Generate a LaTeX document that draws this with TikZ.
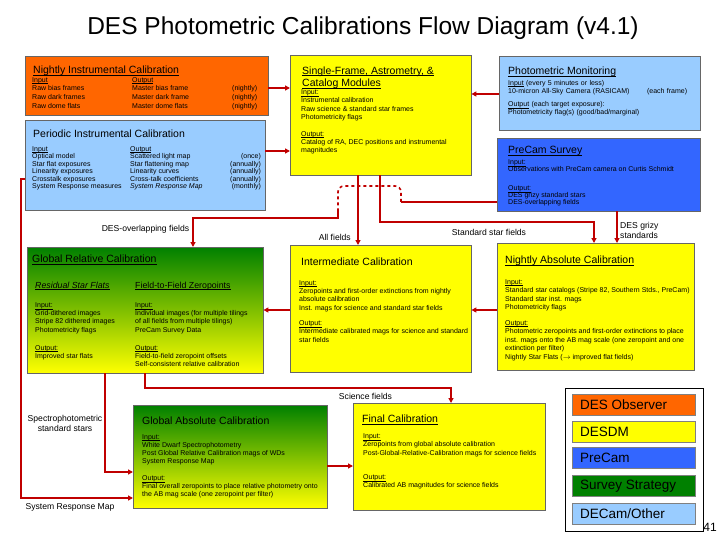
\documentclass[tikz,border=0pt]{standalone}
\usepackage{fontspec}
\setmainfont{Liberation Sans}
\usetikzlibrary{arrows.meta}

\definecolor{obsorange}{RGB}{255,102,0}
\definecolor{dmyellow}{RGB}{255,255,0}
\definecolor{precamblue}{RGB}{51,102,255}
\definecolor{stratgreen}{RGB}{0,128,0}
\definecolor{otherblue}{RGB}{153,204,255}
\definecolor{linkred}{RGB}{192,0,0}

% let tight lines sit closer than their boxes allow
\lineskiplimit=-4pt
% underline close to the baseline, ignoring descenders
\newcommand{\undl}[1]{\underline{\smash{#1}}}

\begin{document}
\begin{tikzpicture}[
  x=1pt, y=-1pt,
  box/.style={rectangle,draw=black!60,anchor=north west,inner sep=0pt},
  boxtitle/.style={anchor=base west,inner sep=0pt,font=\fontsize{10.5}{12.6}\selectfont},
  subtitle/.style={anchor=base west,inner sep=0pt,font=\fontsize{8.8}{10}\selectfont},
  boxtext/.style={anchor=north west,inner sep=0pt,align=left,font=\fontsize{7}{8.3}\selectfont},
  lbl/.style={inner sep=0pt,font=\fontsize{8.6}{10.5}\selectfont},
  link/.style={draw=linkred,line width=1.6pt},
  arrow/.style={link,-{Triangle[length=5pt,width=5pt]}},
  key/.style={rectangle,draw=black!50,anchor=north west,minimum width=123pt,minimum height=21pt},
  keytext/.style={anchor=west,inner sep=0pt,font=\fontsize{13.5}{15}\selectfont}
]
\useasboundingbox (0,0) rectangle (720,540);

\node[font=\fontsize{24.5}{28}\selectfont] (title) at (363,28) {DES Photometric Calibrations Flow Diagram (v4.1)};

% ===== top row =====
\node[box,fill=obsorange,minimum width=243pt,minimum height=59pt] (nightinst) at (25,56) {};
\node[boxtitle] (nightinst-title) at (33,73.5) {\undl{Nightly Instrumental Calibration}};
\node[boxtext,anchor=base west,font=\fontsize{7}{8.8}\selectfont] (nightinst-text) at (32,82.2) {%
  \begin{tabular}[t]{@{}p{100pt}@{}p{100pt}@{}r@{}}
  \undl{Input} & \undl{Output} & \\
  Raw bias frames & Master bias frame & (nightly)\\
  Raw dark frames & Master dark frame & (nightly)\\
  Raw dome flats & Master dome flats & (nightly)
  \end{tabular}};

\node[box,fill=otherblue,minimum width=240pt,minimum height=90pt] (periodic) at (25,120) {};
\node[boxtitle] (periodic-title) at (33,137.5) {Periodic Instrumental Calibration};
\node[boxtext,anchor=base west,font=\fontsize{7}{7.5}\selectfont] (periodic-text) at (32,151.2) {%
  \begin{tabular}[t]{@{}p{98pt}@{}p{100pt}@{}r@{}}
  \undl{Input} & \undl{Output} & \\
  Optical model & Scattered light map & (once)\\
  Star flat exposures & Star flattening map & (annually)\\
  Linearity exposures & Linearity curves & (annually)\\
  Crosstalk exposures & Cross-talk coefficients & (annually)\\
  System Response measures & \textit{System Response Map} & (monthly)
  \end{tabular}};

\node[box,fill=dmyellow,minimum width=181pt,minimum height=120pt] (single) at (290,55) {};
\node[boxtitle,anchor=north west,align=left] (single-title) at (302,74) {\undl{Single-Frame, Astrometry, \&}\\\undl{Catalog Modules}};
\node[boxtext] (single-text) at (301,94.5) {\undl{Input:}\\Instrumental calibration\\Raw science \& standard star frames\\Photometricity flags\\[8.3pt]\undl{Output:}\\Catalog of RA, DEC positions and instrumental\\magnitudes};

\node[box,fill=otherblue,minimum width=201pt,minimum height=74pt] (photmon) at (499,56) {};
\node[boxtitle] (photmon-title) at (508,75) {\undl{Photometric Monitoring}};
\node[boxtext,text width=179pt,font=\fontsize{7}{6.8}\selectfont] (photmon-text) at (508,79.9) {\undl{Input} (every 5 minutes or less)\\10-micron All-Sky Camera (RASICAM)\hfill(each frame)\\[6.5pt]\undl{Output} (each target exposure):\\Photometricity flag(s) (good/bad/marginal)};

\node[box,fill=precamblue,minimum width=203pt,minimum height=73pt] (precam) at (497,138) {};
\node[boxtitle] (precam-title) at (508,153.5) {\undl{PreCam Survey}};
\node[boxtext,font=\fontsize{7}{6.8}\selectfont] (precam-text) at (508,164.5) {\undl{Input:}\\Observations with PreCam camera on Curtis Schmidt\\[12.7pt]\undl{Output:}\\DES grizy standard stars\\DES-overlapping fields};

% ===== middle row =====
\node[box,top color=stratgreen,bottom color=dmyellow,minimum width=236pt,minimum height=126pt] (globrel) at (27,247) {};
\node[boxtitle] (globrel-title) at (32,262.5) {\undl{Global Relative Calibration}};
\node[subtitle] (starflat-title) at (35,288) {\textit{\undl{Residual Star Flats}}};
\node[subtitle] (f2f-title) at (135,288) {\undl{Field-to-Field Zeropoints}};
\node[boxtext,font=\fontsize{7}{8.2}\selectfont] (starflat-text) at (35,307.2) {\undl{Input:}\\Grid-dithered images\\Stripe 82 dithered images\\Photometricity flags\\[9.8pt]\undl{Output:}\\Improved star flats};
\node[boxtext,font=\fontsize{7}{8.2}\selectfont] (f2f-text) at (135,307.2) {\undl{Input:}\\Individual images (for multiple tilings\\of all fields from multiple tilings)\\PreCam Survey Data\\[9.8pt]\undl{Output:}\\Field-to-field zeropoint offsets\\Self-consistent relative calibration};

\node[box,fill=dmyellow,minimum width=181pt,minimum height=127pt] (intercal) at (290,245) {};
\node[boxtitle] (intercal-title) at (301,265) {Intermediate Calibration};
\node[boxtext] (intercal-text) at (299,284.9) {\undl{Input:}\\Zeropoints and first-order extinctions from nightly\\absolute calibration\\Inst. mags for science and standard star fields\\[7.3pt]\undl{Output:}\\Intermediate calibrated mags for science and standard\\star fields};

\node[box,fill=dmyellow,minimum width=197pt,minimum height=127pt] (nightabs) at (497,243) {};
\node[boxtitle] (nightabs-title) at (505,263.5) {\undl{Nightly Absolute Calibration}};
\node[boxtext,font=\fontsize{7}{8.5}\selectfont] (nightabs-text) at (505,283.9) {\undl{Input:}\\Standard star catalogs (Stripe 82, Southern Stds., PreCam)\\Standard star inst. mags\\Photometricity flags\\[7pt]\undl{Output:}\\Photometric zeropoints and first-order extinctions to place\\inst. mags onto the AB mag scale (one zeropoint and one\\extinction per filter)\\Nightly Star Flats ($\rightarrow$ improved flat fields)};

% ===== bottom row =====
\node[box,top color=stratgreen,bottom color=dmyellow,minimum width=194pt,minimum height=103pt] (globabs) at (133,405) {};
\node[boxtitle] (globabs-title) at (142,424.5) {Global Absolute Calibration};
\node[boxtext,font=\fontsize{7}{8.2}\selectfont] (globabs-text) at (142,438.9) {\undl{Input:}\\White Dwarf Spectrophotometry\\Post Global Relative Calibration mags of WDs\\System Response Map\\[8.4pt]\undl{Output:}\\Final overall zeropoints to place relative photometry onto\\the AB mag scale (one zeropoint per filter)};

\node[box,fill=dmyellow,minimum width=192pt,minimum height=107pt] (finalcal) at (353,403) {};
\node[boxtitle] (finalcal-title) at (362,422.5) {\undl{Final Calibration}};
\node[boxtext,font=\fontsize{7}{8.3}\selectfont] (finalcal-text) at (363,438.2) {\undl{Input:}\\Zeropoints from global absolute calibration\\Post-Global-Relative-Calibration mags for science fields\\[16pt]\undl{Output:}\\Calibrated AB magnitudes for science fields};

% ===== legend =====
\node[box,draw=black,fill=white,minimum width=138pt,minimum height=143pt] (legend) at (565,388) {};
\node[key,fill=obsorange] (key-observer) at (572,394) {};
\node[keytext] (key-observer-text) at ([xshift=8pt]key-observer.west) {DES Observer};
\node[key,fill=dmyellow] (key-desdm) at (572,421) {};
\node[keytext] (key-desdm-text) at ([xshift=8pt]key-desdm.west) {DESDM};
\node[key,fill=precamblue] (key-precam) at (572,447) {};
\node[keytext] (key-precam-text) at ([xshift=8pt]key-precam.west) {PreCam};
\node[key,fill=stratgreen] (key-strategy) at (572,475) {};
\node[keytext] (key-strategy-text) at ([xshift=8pt]key-strategy.west) {Survey Strategy};
\node[key,fill=otherblue] (key-other) at (572,503) {};
\node[keytext] (key-other-text) at ([xshift=8pt]key-other.west) {DECam/Other};

\node[font=\fontsize{12}{14}\selectfont] (pagenum) at (710,527) {41};

% ===== connectors =====
\draw[arrow] (nightinst.east |- 0,88) -- (single.west |- 0,88);
\draw[arrow] (periodic.east |- 0,151) -- (single.west |- 0,151);
\draw[arrow] (photmon.west |- 0,94) -- (single.east |- 0,94);

% system response map down the left side
\draw[arrow] (periodic.west |- 0,179) -| (21,498) -- (globabs.west |- 0,498);
\node[lbl] (lbl-srm) at (70,507) {System Response Map};

\draw[arrow] (single.south -| 358,0) -- (intercal.north -| 358,0);
\node[lbl,anchor=east] (lbl-all) at (351,237) {All fields};

\draw[arrow] (single.south -| 380,0) |- (594,222) -- (nightabs.north -| 594,0);
\node[lbl] (lbl-std) at (489,232) {Standard star fields};

\draw[arrow] (precam.south -| 617,0) -- (nightabs.north -| 617,0);
\node[lbl,anchor=north west,align=left] (lbl-grizy) at (620,222) {DES grizy\\standards};

% DES-overlapping fields, hopping over the two lines
\coordinate (hop-r) at (401,202);
\coordinate (hop-l) at (338,210);
\draw[link] (precam.west |- hop-r) -- (hop-r);
\draw[link,dashed,rounded corners=6pt] (hop-r) -- (401,186) -- (338,186) -- (hop-l);
\draw[arrow] (hop-l) |- (193,218) -- (globrel.north -| 193,0);
\node[lbl] (lbl-overlap) at (145.5,229) {DES-overlapping fields};

\draw[arrow] (nightabs.west |- 0,310) -- (intercal.east |- 0,310);
\draw[arrow] (intercal.west |- 0,310) -- (globrel.east |- 0,310);

\draw[arrow] (globrel.south -| 105,0) |- (globabs.west |- 0,472);
\node[lbl,align=center,font=\fontsize{8.6}{10}\selectfont] (lbl-spec) at (65,423) {Spectrophotometric\\standard stars};

\draw[arrow] (globrel.south -| 145,0) |- (451,388) -- (finalcal.north -| 451,0);
\node[lbl] (lbl-sci) at (365.5,396) {Science fields};

\draw[arrow] (globabs.east |- 0,466) -- (finalcal.west |- 0,466);

\end{tikzpicture}
\end{document}
